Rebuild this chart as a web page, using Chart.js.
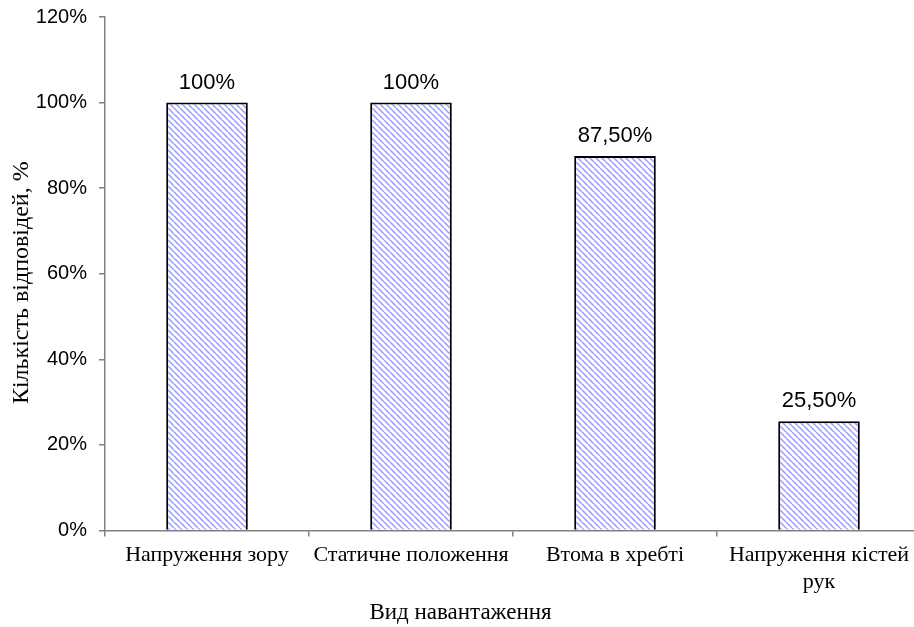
<!DOCTYPE html>
<html>
<head>
<meta charset="utf-8">
<script src="https://cdn.jsdelivr.net/npm/chart.js"></script>
<style>
html,body{margin:0;padding:0;background:#fff;overflow:hidden;}
#wrap{width:924px;height:627px;}
</style>
</head>
<body>
<div id="wrap"><canvas id="c" width="924" height="627"></canvas></div>
<script>
const categories = ['Напруження зору', 'Статичне положення', 'Втома в хребті', ['Напруження кістей', 'рук']];
const values = [100, 100, 87.5, 25.5];
const valueLabels = ['100%', '100%', '87,50%', '25,50%'];
const yTicks = [0, 20, 40, 60, 80, 100, 120];
const yTitle = 'Кількість відповідей, %';
const xTitle = 'Вид навантаження';

function makeHatch() {
  const s = 6;
  const c = document.createElement('canvas');
  c.width = s; c.height = s;
  const g = c.getContext('2d');
  g.fillStyle = '#ffffff';
  g.fillRect(0, 0, s, s);
  g.strokeStyle = '#9a9afc';
  g.lineWidth = 1.5;
  for (const k of [-s, 0, s]) {
    g.beginPath();
    g.moveTo(k, 0);
    g.lineTo(k + s, s);
    g.stroke();
  }
  return document.getElementById('c').getContext('2d').createPattern(c, 'repeat');
}

const valueLabelPlugin = {
  id: 'valueLabels',
  afterDatasetsDraw(chart) {
    const ctx = chart.ctx;
    const meta = chart.getDatasetMeta(0);
    ctx.save();
    ctx.font = '22px "Liberation Sans", Arial, sans-serif';
    ctx.fillStyle = '#000';
    ctx.textAlign = 'center';
    ctx.textBaseline = 'alphabetic';
    meta.data.forEach((bar, i) => {
      ctx.fillText(valueLabels[i], bar.x, bar.y - 14);
    });
    ctx.restore();
  }
};

new Chart(document.getElementById('c'), {
  type: 'bar',
  data: {
    labels: categories,
    datasets: [{
      data: values,
      backgroundColor: makeHatch(),
      borderColor: '#000000',
      borderWidth: 2,
      categoryPercentage: 1.0,
      barPercentage: 0.4
    }]
  },
  options: {
    responsive: false,
    animation: false,
    devicePixelRatio: 1,
    layout: { padding: { top: 17, right: 3, left: 0, bottom: 0 } },
    plugins: {
      legend: { display: false },
      tooltip: { enabled: false },
      title: {
        display: true,
        position: 'bottom',
        text: xTitle,
        color: '#000',
        font: { family: '"Liberation Serif", "Times New Roman", serif', size: 23, weight: 'normal', lineHeight: 1.2 },
        padding: { top: 0, bottom: 0 }
      }
    },
    scales: {
      x: {
        afterFit(scale) { scale.height = 69; },
        grid: { display: true, drawOnChartArea: false, drawTicks: true, tickLength: 6, color: '#808080', lineWidth: 1.5, offset: true },
        border: { display: true, color: '#808080', width: 1.5 },
        ticks: {
          color: '#000',
          font: { family: '"Liberation Serif", "Times New Roman", serif', size: 22, lineHeight: 1.25 },
          padding: 5,
          maxRotation: 0,
          autoSkip: false
        }
      },
      y: {
        min: 0,
        max: 120,
        afterFit(scale) { scale.width = 105; },
        afterBuildTicks(scale) { scale.ticks = yTicks.map(v => ({ value: v })); },
        grid: { display: true, drawOnChartArea: false, drawTicks: true, tickLength: 6, color: '#808080', lineWidth: 1.5 },
        border: { display: true, color: '#808080', width: 1.5 },
        ticks: {
          color: '#000',
          font: { family: '"Liberation Sans", Arial, sans-serif', size: 20, lineHeight: 0.4 },
          padding: 12,
          callback: v => v + '%'
        },
        title: {
          display: true,
          text: yTitle + '   ',
          color: '#000',
          font: { family: '"Liberation Serif", "Times New Roman", serif', size: 24, weight: 'normal', lineHeight: 1.2 },
          padding: { top: 7, bottom: 0 }
        }
      }
    }
  },
  plugins: [valueLabelPlugin]
});
</script>
</body>
</html>
